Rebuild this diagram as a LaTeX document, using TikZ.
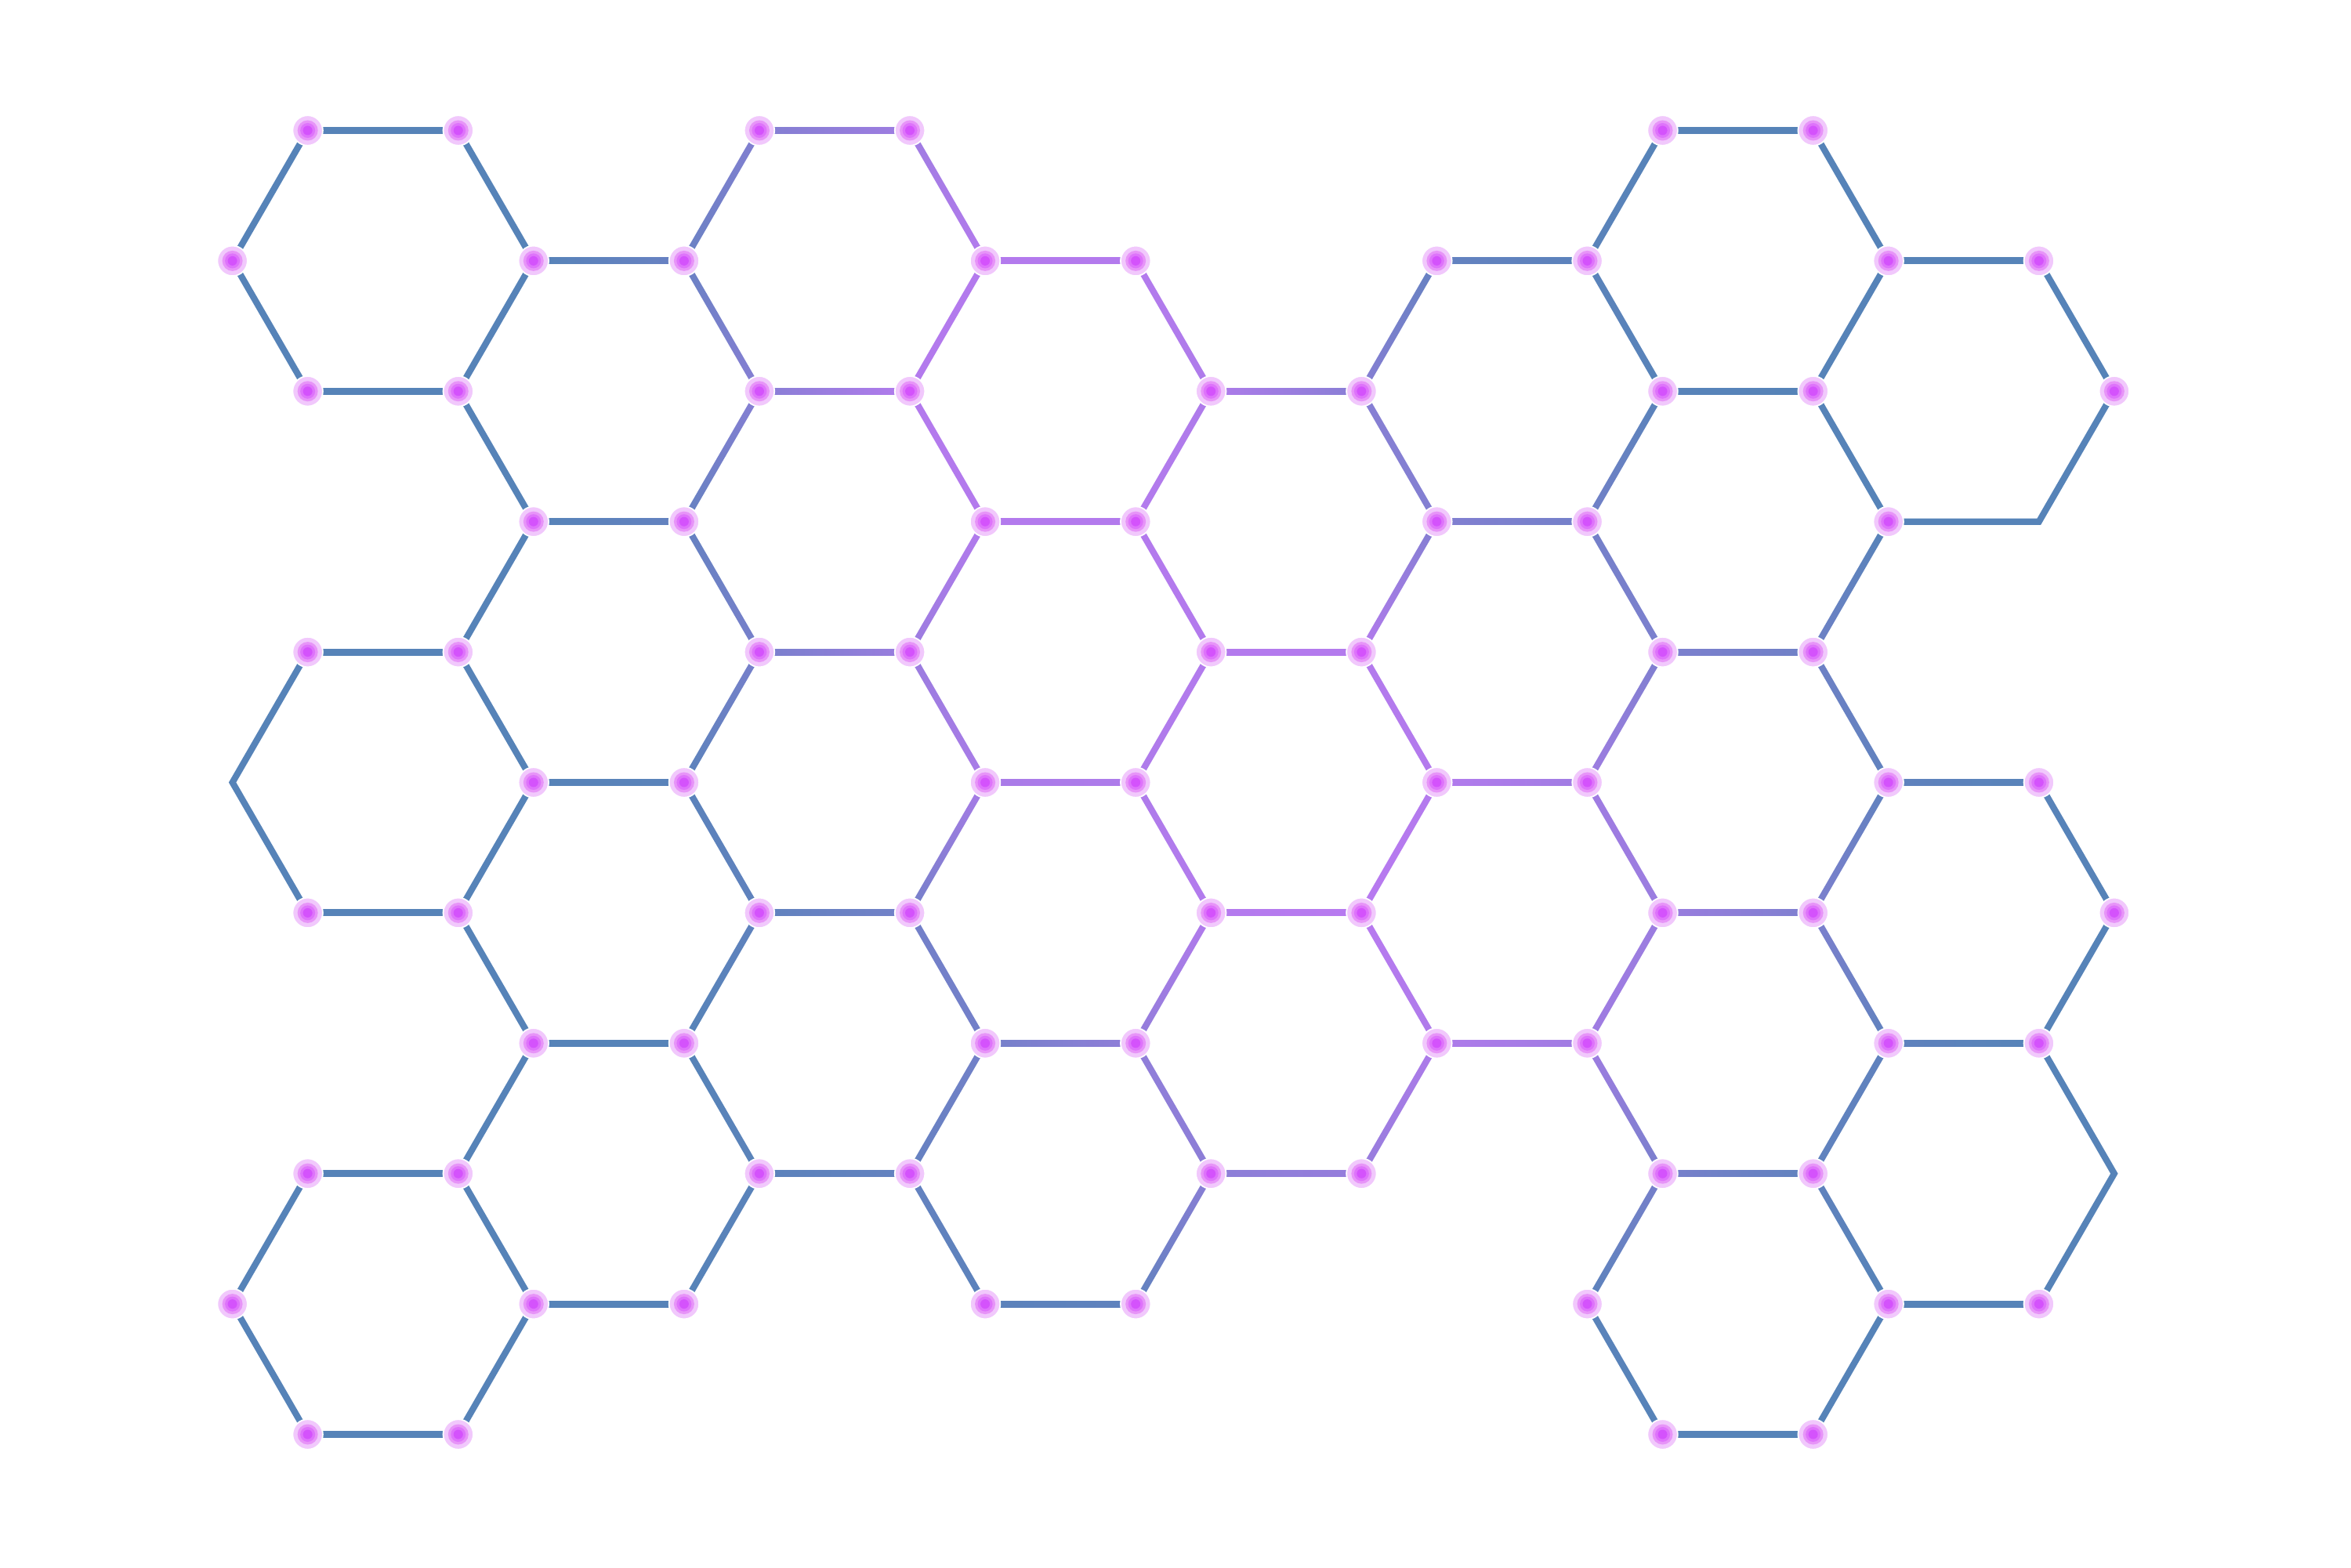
\documentclass[tikz,border=0pt]{standalone}
\definecolor{blu}{RGB}{86,131,184}
\definecolor{purp}{RGB}{184,122,240}
\definecolor{halo}{RGB}{241,200,252}
\definecolor{ringc}{RGB}{231,148,248}
\definecolor{innc}{RGB}{222,115,251}
\definecolor{corec}{RGB}{212,82,252}
\tikzset{
  link/.style={line width=2.325pt, line cap=butt},
  dot/.style={circle, inner sep=0pt, minimum size=0.385cm, fill=halo, draw=white, line width=0.5pt,
    path picture={
      \fill[ringc] (path picture bounding box.center) circle (0.13cm);
      \fill[innc] (path picture bounding box.center) circle (0.095cm);
      \fill[corec] (path picture bounding box.center) circle (0.06cm);}}
}
\newcommand\vx[3]{\coordinate (v#1-#2) at (#1,#2);\expandafter\xdef\csname tv#1-#2\endcsname{#3}}
% a link from vertex #1 to vertex #2, coloured along its length
\newcommand\edg[2]{%
  \pgfpointanchor{v#1}{center}\pgfgetlastxy\xa\ya
  \pgfpointanchor{v#2}{center}\pgfgetlastxy\xb\yb
  \pgfmathsetmacro\ang{atan2(\yb-\ya,\xb-\xa)}%
  \pgfmathsetmacro\len{veclen(\xb-\xa,\yb-\ya)}%
  \pgfmathsetmacro\ca{100*\csname tv#1\endcsname}%
  \pgfmathsetmacro\cb{100*\csname tv#2\endcsname}%
  \shade[transform canvas={shift={(\xa,\ya)},rotate=\ang},
    left color=purp!\ca!blu, right color=purp!\cb!blu]
    (0,-1.162pt) rectangle (\len pt,1.162pt);}
\begin{document}
\begin{tikzpicture}
\useasboundingbox (0,0) rectangle (30,20);
\begin{scope}[shift={(2.966cm,18.335cm)}, x=0.9605cm, y=-1.664cm]
% vertices: (m, r, purple weight)
\vx{1}{0}{0}\vx{3}{0}{0}\vx{7}{0}{0.45}\vx{9}{0}{0.75}\vx{19}{0}{0}\vx{21}{0}{0}
\vx{0}{1}{0}\vx{4}{1}{0}\vx{6}{1}{0.2}\vx{10}{1}{0.95}\vx{12}{1}{0.95}\vx{16}{1}{0.15}\vx{18}{1}{0.05}\vx{22}{1}{0}\vx{24}{1}{0}
\vx{1}{2}{0}\vx{3}{2}{0}\vx{7}{2}{0.5}\vx{9}{2}{0.95}\vx{13}{2}{0.9}\vx{15}{2}{0.5}\vx{19}{2}{0.02}\vx{21}{2}{0}\vx{25}{2}{0}
\vx{4}{3}{0}\vx{6}{3}{0.15}\vx{10}{3}{0.95}\vx{12}{3}{0.95}\vx{16}{3}{0.45}\vx{18}{3}{0.3}\vx{22}{3}{0}\vx{24}{3}{0}
\vx{1}{4}{0}\vx{3}{4}{0}\vx{7}{4}{0.35}\vx{9}{4}{0.7}\vx{13}{4}{0.95}\vx{15}{4}{0.95}\vx{19}{4}{0.4}\vx{21}{4}{0.25}
\vx{0}{5}{0}\vx{4}{5}{0}\vx{6}{5}{0.05}\vx{10}{5}{0.85}\vx{12}{5}{0.9}\vx{16}{5}{0.95}\vx{18}{5}{0.75}\vx{22}{5}{0.1}\vx{24}{5}{0.02}
\vx{1}{6}{0}\vx{3}{6}{0}\vx{7}{6}{0.1}\vx{9}{6}{0.3}\vx{13}{6}{0.95}\vx{15}{6}{1}\vx{19}{6}{0.7}\vx{21}{6}{0.4}\vx{25}{6}{0}
\vx{4}{7}{0}\vx{6}{7}{0}\vx{10}{7}{0.3}\vx{12}{7}{0.6}\vx{16}{7}{0.9}\vx{18}{7}{0.75}\vx{22}{7}{0.1}\vx{24}{7}{0}
\vx{1}{8}{0}\vx{3}{8}{0}\vx{7}{8}{0.05}\vx{9}{8}{0.15}\vx{13}{8}{0.55}\vx{15}{8}{0.65}\vx{19}{8}{0.35}\vx{21}{8}{0.1}\vx{25}{8}{0}
\vx{0}{9}{0}\vx{4}{9}{0}\vx{6}{9}{0}\vx{10}{9}{0.05}\vx{12}{9}{0.1}\vx{18}{9}{0.05}\vx{22}{9}{0}\vx{24}{9}{0}
\vx{1}{10}{0}\vx{3}{10}{0}\vx{19}{10}{0}\vx{21}{10}{0}
\end{scope}
% horizontal links
\foreach \a/\b in {1-0/3-0,7-0/9-0,19-0/21-0,
  4-1/6-1,10-1/12-1,16-1/18-1,22-1/24-1,
  1-2/3-2,7-2/9-2,13-2/15-2,19-2/21-2,
  4-3/6-3,10-3/12-3,16-3/18-3,
  1-4/3-4,7-4/9-4,13-4/15-4,19-4/21-4,
  4-5/6-5,10-5/12-5,16-5/18-5,22-5/24-5,
  1-6/3-6,7-6/9-6,13-6/15-6,19-6/21-6,
  4-7/6-7,10-7/12-7,16-7/18-7,22-7/24-7,
  1-8/3-8,7-8/9-8,13-8/15-8,19-8/21-8,
  4-9/6-9,10-9/12-9,22-9/24-9,
  1-10/3-10,19-10/21-10}{\edg{\a}{\b}}
% slanted links
\foreach \a/\b in {1-0/0-1,3-0/4-1,7-0/6-1,9-0/10-1,19-0/18-1,21-0/22-1,
  0-1/1-2,4-1/3-2,6-1/7-2,10-1/9-2,12-1/13-2,16-1/15-2,18-1/19-2,22-1/21-2,24-1/25-2,
  3-2/4-3,7-2/6-3,9-2/10-3,13-2/12-3,15-2/16-3,19-2/18-3,21-2/22-3,
  4-3/3-4,6-3/7-4,10-3/9-4,12-3/13-4,16-3/15-4,18-3/19-4,22-3/21-4,
  3-4/4-5,7-4/6-5,9-4/10-5,13-4/12-5,15-4/16-5,19-4/18-5,21-4/22-5,
  4-5/3-6,6-5/7-6,10-5/9-6,12-5/13-6,16-5/15-6,18-5/19-6,22-5/21-6,24-5/25-6,
  3-6/4-7,7-6/6-7,9-6/10-7,13-6/12-7,15-6/16-7,19-6/18-7,21-6/22-7,25-6/24-7,
  4-7/3-8,6-7/7-8,10-7/9-8,12-7/13-8,16-7/15-8,18-7/19-8,22-7/21-8,
  1-8/0-9,3-8/4-9,7-8/6-9,9-8/10-9,13-8/12-9,19-8/18-9,21-8/22-9,
  0-9/1-10,4-9/3-10,18-9/19-10,22-9/21-10}{\edg{\a}{\b}}
% open corners (no marker): drawn as joined polylines
\draw[link, blu, line join=miter] (v22-3) -- (v24-3) -- (v25-2);
\draw[link, blu, line join=miter] (v1-4) -- (v0-5) -- (v1-6);
\draw[link, blu, line join=miter] (v24-7) -- (v25-8) -- (v24-9);
% markers
\foreach \p in {1-0,3-0,7-0,9-0,19-0,21-0,
  0-1,4-1,6-1,10-1,12-1,16-1,18-1,22-1,24-1,
  1-2,3-2,7-2,9-2,13-2,15-2,19-2,21-2,25-2,
  4-3,6-3,10-3,12-3,16-3,18-3,22-3,
  1-4,3-4,7-4,9-4,13-4,15-4,19-4,21-4,
  4-5,6-5,10-5,12-5,16-5,18-5,22-5,24-5,
  1-6,3-6,7-6,9-6,13-6,15-6,19-6,21-6,25-6,
  4-7,6-7,10-7,12-7,16-7,18-7,22-7,24-7,
  1-8,3-8,7-8,9-8,13-8,15-8,19-8,21-8,
  0-9,4-9,6-9,10-9,12-9,18-9,22-9,24-9,
  1-10,3-10,19-10,21-10}{\node[dot] (n\p) at (v\p) {};}
\end{tikzpicture}
\end{document}
